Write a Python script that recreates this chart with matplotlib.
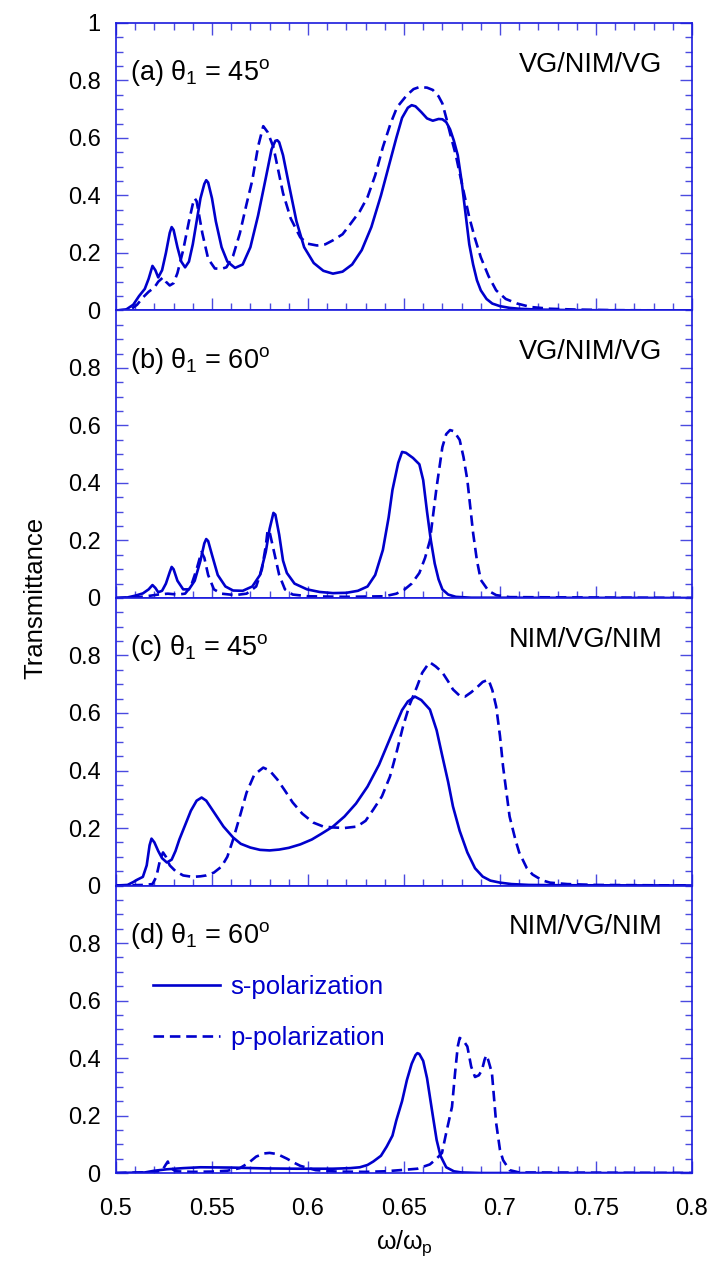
import numpy as np
import matplotlib
matplotlib.use('Agg')
import matplotlib.pyplot as plt
from matplotlib.ticker import MultipleLocator

plt.rcParams['font.family'] = ['Liberation Sans', 'DejaVu Sans']
plt.rcParams['mathtext.fontset'] = 'custom'
plt.rcParams['mathtext.rm'] = 'Liberation Sans'
plt.rcParams['mathtext.it'] = 'Liberation Sans'
plt.rcParams['mathtext.bf'] = 'Liberation Sans:bold'

# (a) VG/NIM/VG, theta1 = 45
a_s_w = [0.500, 0.505, 0.509, 0.512, 0.515, 0.517, 0.519, 0.5205, 0.522, 0.524, 0.526, 0.528, 0.529, 0.530,
         0.532, 0.534, 0.536, 0.538, 0.540, 0.542, 0.544, 0.546, 0.547, 0.548, 0.550, 0.552, 0.555, 0.558,
         0.562, 0.566, 0.570, 0.574, 0.578, 0.581, 0.583, 0.584, 0.585, 0.587, 0.590, 0.594, 0.598, 0.603,
         0.608, 0.613, 0.618, 0.623, 0.628, 0.633, 0.638, 0.642, 0.646, 0.649, 0.652, 0.654, 0.656, 0.659,
         0.662, 0.665, 0.668, 0.670, 0.672, 0.674, 0.676, 0.678, 0.680, 0.682, 0.684, 0.686, 0.688, 0.690,
         0.693, 0.696, 0.700, 0.705, 0.710, 0.720, 0.740, 0.800]
a_s_T = [0.0, 0.002, 0.02, 0.05, 0.075, 0.11, 0.155, 0.14, 0.115, 0.14, 0.2, 0.27, 0.29, 0.28,
         0.22, 0.17, 0.15, 0.17, 0.23, 0.31, 0.39, 0.44, 0.453, 0.445, 0.39, 0.31, 0.22, 0.17,
         0.148, 0.16, 0.22, 0.33, 0.46, 0.56, 0.59, 0.592, 0.585, 0.54, 0.44, 0.31, 0.22, 0.165,
         0.138, 0.128, 0.135, 0.16, 0.21, 0.29, 0.40, 0.50, 0.60, 0.67, 0.705, 0.714, 0.71, 0.69,
         0.668, 0.66, 0.666, 0.665, 0.655, 0.63, 0.59, 0.54, 0.45, 0.34, 0.23, 0.16, 0.105, 0.07,
         0.04, 0.024, 0.015, 0.009, 0.006, 0.003, 0.001, 0.0]
a_p_w = [0.500, 0.508, 0.511, 0.514, 0.517, 0.520, 0.522, 0.5245, 0.526, 0.528, 0.530, 0.532, 0.535, 0.538,
         0.540, 0.541, 0.542, 0.545, 0.548, 0.5515, 0.555, 0.5575, 0.561, 0.5645, 0.568, 0.571, 0.574,
         0.5767, 0.579, 0.582, 0.587, 0.591, 0.596, 0.600, 0.6047, 0.609, 0.613, 0.618, 0.622, 0.627,
         0.631, 0.635, 0.639, 0.643, 0.6464, 0.6515, 0.655, 0.658, 0.662, 0.665, 0.668, 0.670, 0.672,
         0.674, 0.677, 0.679, 0.684, 0.687, 0.690, 0.694, 0.698, 0.703, 0.709, 0.716, 0.726, 0.740,
         0.760, 0.800]
a_p_T = [0.0, 0.005, 0.02, 0.045, 0.065, 0.08, 0.1, 0.115, 0.1, 0.087, 0.095, 0.13, 0.21, 0.31,
         0.37, 0.39, 0.38, 0.268, 0.18, 0.146, 0.145, 0.15, 0.19, 0.268, 0.37, 0.453, 0.57,
         0.641, 0.62, 0.568, 0.408, 0.32, 0.254, 0.232, 0.226, 0.23, 0.244, 0.265, 0.30, 0.345,
         0.394, 0.47, 0.568, 0.65, 0.707, 0.749, 0.77, 0.777, 0.775, 0.767, 0.745, 0.72, 0.67,
         0.616, 0.54, 0.477, 0.324, 0.25, 0.185, 0.12, 0.07, 0.04, 0.024, 0.012, 0.006, 0.003,
         0.001, 0.0]

# (b) VG/NIM/VG, theta1 = 60
b_s_w = [0.500, 0.506, 0.510, 0.514, 0.517, 0.519, 0.5205, 0.522, 0.524, 0.526, 0.528, 0.529, 0.530, 0.532,
         0.535, 0.538, 0.541, 0.544, 0.546, 0.547, 0.548, 0.550, 0.553, 0.557, 0.561, 0.566, 0.571,
         0.575, 0.578, 0.580, 0.582, 0.583, 0.585, 0.587, 0.589, 0.593, 0.5995, 0.606, 0.613, 0.620,
         0.626, 0.631, 0.635, 0.639, 0.642, 0.644, 0.647, 0.649, 0.651, 0.6547, 0.658, 0.660, 0.662,
         0.664, 0.666, 0.668, 0.670, 0.673, 0.677, 0.685, 0.800]
b_s_T = [0.0, 0.002, 0.008, 0.016, 0.03, 0.045, 0.035, 0.02, 0.025, 0.05, 0.09, 0.108, 0.1, 0.06,
         0.03, 0.03, 0.06, 0.13, 0.19, 0.205, 0.198, 0.15, 0.08, 0.04, 0.026, 0.025, 0.04,
         0.08, 0.16, 0.24, 0.296, 0.29, 0.22, 0.13, 0.087, 0.05, 0.03, 0.021, 0.017, 0.018,
         0.025, 0.04, 0.08, 0.167, 0.28, 0.376, 0.47, 0.508, 0.505, 0.487, 0.465, 0.41, 0.30,
         0.2, 0.12, 0.065, 0.03, 0.012, 0.004, 0.001, 0.0]
b_p_w = [0.500, 0.512, 0.518, 0.522, 0.527, 0.532, 0.536, 0.539, 0.542, 0.5445, 0.546, 0.548, 0.551,
         0.555, 0.562, 0.568, 0.573, 0.576, 0.578, 0.579, 0.580, 0.582, 0.585, 0.588, 0.592, 0.600,
         0.620, 0.640, 0.646, 0.650, 0.654, 0.658, 0.661, 0.6635, 0.667, 0.670, 0.672, 0.674, 0.676,
         0.679, 0.681, 0.683, 0.686, 0.688, 0.690, 0.694, 0.698, 0.705, 0.800]
b_p_T = [0.0, 0.003, 0.008, 0.012, 0.015, 0.012, 0.015, 0.04, 0.1, 0.16, 0.14, 0.08, 0.03,
         0.015, 0.01, 0.015, 0.04, 0.1, 0.18, 0.236, 0.23, 0.17, 0.08, 0.03, 0.012, 0.006,
         0.004, 0.006, 0.015, 0.028, 0.05, 0.087, 0.14, 0.2, 0.386, 0.525, 0.57, 0.584, 0.58,
         0.55, 0.49, 0.41, 0.226, 0.13, 0.063, 0.025, 0.01, 0.003, 0.0]

# (c) NIM/VG/NIM, theta1 = 45
c_s_w = [0.500, 0.506, 0.509, 0.511, 0.514, 0.516, 0.5175, 0.5185, 0.520, 0.522, 0.524, 0.5265, 0.529,
         0.531, 0.533, 0.536, 0.539, 0.542, 0.5446, 0.547, 0.550, 0.5525, 0.556, 0.561, 0.565, 0.570,
         0.575, 0.580, 0.585, 0.590, 0.596, 0.602, 0.607, 0.613, 0.619, 0.625, 0.631, 0.637, 0.644,
         0.649, 0.652, 0.6557, 0.659, 0.6635, 0.667, 0.670, 0.673, 0.6755, 0.679, 0.683, 0.687, 0.691,
         0.695, 0.700, 0.706, 0.715, 0.730, 0.800]
c_s_T = [0.0, 0.002, 0.012, 0.02, 0.03, 0.07, 0.14, 0.163, 0.15, 0.12, 0.095, 0.08, 0.09,
         0.12, 0.16, 0.21, 0.26, 0.295, 0.306, 0.295, 0.265, 0.24, 0.205, 0.167, 0.145, 0.132,
         0.124, 0.122, 0.125, 0.131, 0.143, 0.16, 0.18, 0.205, 0.24, 0.285, 0.344, 0.42, 0.532,
         0.61, 0.64, 0.657, 0.645, 0.612, 0.54, 0.449, 0.36, 0.275, 0.19, 0.115, 0.06, 0.031,
         0.017, 0.01, 0.005, 0.002, 0.001, 0.0]
c_p_w = [0.500, 0.515, 0.519, 0.521, 0.523, 0.5245, 0.526, 0.528, 0.531, 0.535, 0.540, 0.544, 0.547,
         0.551, 0.555, 0.558, 0.561, 0.5645, 0.568, 0.572, 0.5767, 0.580, 0.584, 0.588, 0.592, 0.597,
         0.6027, 0.608, 0.613, 0.619, 0.6255, 0.630, 0.634, 0.6385, 0.6427, 0.646, 0.6495, 0.653,
         0.6568, 0.6595, 0.6625, 0.6635, 0.6665, 0.670, 0.673, 0.6755, 0.679, 0.6818, 0.685, 0.688,
         0.691, 0.694, 0.696, 0.698, 0.700, 0.7016, 0.705, 0.708, 0.710, 0.714, 0.717, 0.722, 0.726,
         0.735, 0.750, 0.800]
c_p_T = [0.0, 0.002, 0.005, 0.03, 0.09, 0.115, 0.1, 0.07, 0.05, 0.035, 0.03, 0.032, 0.035,
         0.045, 0.066, 0.1, 0.16, 0.24, 0.323, 0.385, 0.41, 0.4, 0.369, 0.33, 0.289, 0.25,
         0.219, 0.205, 0.202, 0.2, 0.205, 0.225, 0.264, 0.31, 0.379, 0.46, 0.553, 0.63,
         0.692, 0.74, 0.769, 0.776, 0.762, 0.741, 0.71, 0.682, 0.66, 0.657, 0.672, 0.689,
         0.708, 0.716, 0.68, 0.623, 0.52, 0.414, 0.24, 0.16, 0.115, 0.06, 0.038, 0.018, 0.01,
         0.005, 0.002, 0.0]

# (d) NIM/VG/NIM, theta1 = 60
d_s_w = [0.500, 0.515, 0.520, 0.5265, 0.535, 0.544, 0.560, 0.578, 0.594, 0.613, 0.622, 0.627, 0.631,
         0.634, 0.638, 0.641, 0.644, 0.646, 0.649, 0.6515, 0.654, 0.656, 0.657, 0.658, 0.660, 0.662,
         0.6635, 0.665, 0.667, 0.669, 0.672, 0.676, 0.680, 0.690, 0.800]
d_s_T = [0.0, 0.002, 0.008, 0.013, 0.017, 0.02, 0.019, 0.016, 0.015, 0.015, 0.017, 0.02, 0.028,
         0.04, 0.06, 0.092, 0.13, 0.183, 0.25, 0.323, 0.38, 0.41, 0.417, 0.414, 0.39, 0.33,
         0.265, 0.2, 0.115, 0.06, 0.02, 0.006, 0.002, 0.0, 0.0]
d_p_w = [0.500, 0.520, 0.524, 0.526, 0.527, 0.528, 0.531, 0.540, 0.550, 0.558, 0.5645, 0.569, 0.573,
         0.577, 0.580, 0.584, 0.589, 0.593, 0.596, 0.604, 0.615, 0.630, 0.640, 0.648, 0.657, 0.6635,
         0.667, 0.6698, 0.672, 0.675, 0.6766, 0.678, 0.679, 0.681, 0.683, 0.685, 0.687, 0.689, 0.6906,
         0.692, 0.693, 0.694, 0.6958, 0.698, 0.700, 0.7016, 0.705, 0.710, 0.800]
d_p_T = [0.0, 0.003, 0.008, 0.03, 0.04, 0.02, 0.006, 0.004, 0.005, 0.008, 0.017, 0.035, 0.057,
         0.068, 0.07, 0.066, 0.05, 0.035, 0.025, 0.01, 0.005, 0.004, 0.006, 0.01, 0.015, 0.03,
         0.05, 0.07, 0.14, 0.23, 0.348, 0.44, 0.47, 0.46, 0.44, 0.37, 0.334, 0.34, 0.358,
         0.395, 0.41, 0.39, 0.348, 0.174, 0.08, 0.045, 0.01, 0.002, 0.0]

x_ticks = [0.5, 0.55, 0.6, 0.65, 0.7, 0.75, 0.8]
x_tick_labels = ['0.5', '0.55', '0.6', '0.65', '0.7', '0.75', '0.8']

panels = [
    ('(a)', '45', 'VG/NIM/VG', a_s_w, a_s_T, a_p_w, a_p_T),
    ('(b)', '60', 'VG/NIM/VG', b_s_w, b_s_T, b_p_w, b_p_T),
    ('(c)', '45', 'NIM/VG/NIM', c_s_w, c_s_T, c_p_w, c_p_T),
    ('(d)', '60', 'NIM/VG/NIM', d_s_w, d_s_T, d_p_w, d_p_T),
]

LINE_C = '#0000cc'
AXIS_C = '#1a1add'
TICK_C = '#4a4ae0'

fig = plt.figure(figsize=(7.12, 12.68), dpi=100)
axes = fig.subplots(4, 1, sharex=True)
fig.subplots_adjust(left=0.1629, right=0.9719, top=0.9819, bottom=0.0749, hspace=0)

for i, (ax, (tag, ang, stack, sw, sT, pw, pT)) in enumerate(zip(axes, panels)):
    ax.plot(sw, sT, color=LINE_C, lw=1.9, label='s-polarization')
    ax.plot(pw, pT, color=LINE_C, lw=1.9, ls=(0, (4, 2.2)), label='p-polarization')

    ax.set_xlim(0.5, 0.8)
    ax.set_ylim(0, 1)
    ax.set_xticks(x_ticks)
    ax.set_xticklabels(x_tick_labels)
    ax.xaxis.set_minor_locator(MultipleLocator(0.01))
    if i == 0:
        ax.set_yticks([0, 0.2, 0.4, 0.6, 0.8, 1.0])
        ax.set_yticklabels(['0', '0.2', '0.4', '0.6', '0.8', '1'])
    else:
        ax.set_yticks([0, 0.2, 0.4, 0.6, 0.8])
        ax.set_yticklabels(['0', '0.2', '0.4', '0.6', '0.8'])
    ax.yaxis.set_minor_locator(MultipleLocator(0.05))

    ax.tick_params(which='both', direction='in', top=(i == 0), right=True,
                   color=TICK_C, width=1.0, labelsize=17, labelcolor='black')
    ax.tick_params(which='major', length=8.5)
    ax.tick_params(which='minor', length=5)
    ax.tick_params(axis='y', pad=11)
    ax.tick_params(axis='x', pad=18)
    for sp in ax.spines.values():
        sp.set_color(AXIS_C)
        sp.set_linewidth(1.2)

    ax.text(0.5073, 0.80, tag + r' $\theta_1$ = ' + ang + r'$^{\rm o}$', fontsize=19.5,
            ha='left', va='baseline')
    ax.text(0.7845, 0.83, stack, fontsize=19.5, ha='right', va='baseline')

leg = axes[3].legend(loc='upper left', bbox_to_anchor=(0.064, 0.69), frameon=False,
                     fontsize=18.5, handlelength=2.6, handletextpad=0.4,
                     labelspacing=1.05, borderpad=0, borderaxespad=0,
                     labelcolor=LINE_C)

axes[3].set_xlabel(r'$\omega/\omega_p$', fontsize=18, labelpad=6)
fig.text(35 / 712, 1 - 598 / 1268, 'Transmittance', rotation=90, fontsize=18.5,
         ha='center', va='center')

fig.savefig('out.png', dpi=100)
